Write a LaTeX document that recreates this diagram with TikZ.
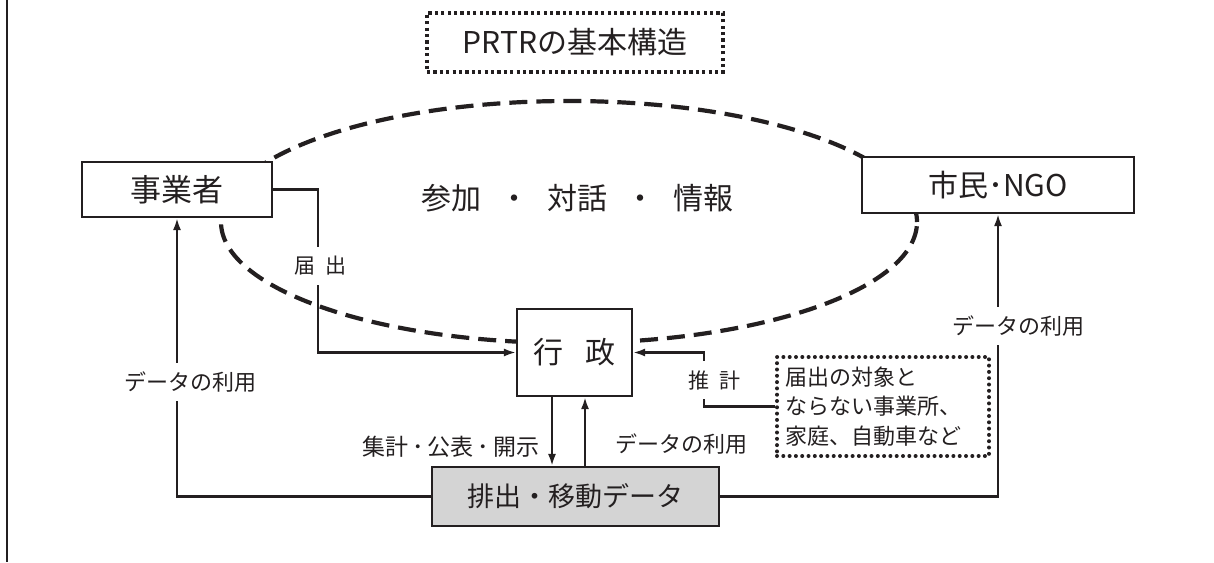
\documentclass[tikz,border=0pt]{standalone}
\usepackage{fontspec}
\setmainfont{Noto Sans CJK JP}
\usetikzlibrary{arrows.meta}
\definecolor{ink}{RGB}{35,31,32}
\definecolor{boxgray}{RGB}{212,212,212}
\begin{document}
\begin{tikzpicture}[x=1pt,y=-1pt,
  box/.style={draw=ink, line width=2.1pt, fill=white, inner sep=0pt, text=ink},
  arr/.style={draw=ink, line width=2.2pt, -{Latex[length=12pt,width=8pt]}},
  conn/.style={draw=ink, line width=2.2pt},
  lab/.style={fill=white, inner xsep=2pt, inner ysep=9pt, text=ink, font=\fontsize{22}{26}\selectfont},
  plain/.style={inner sep=0pt, text=ink},
  big/.style={font=\fontsize{30}{36}\selectfont},
  mid/.style={font=\fontsize{27}{32}\selectfont},
  small/.style={font=\fontsize{22}{26}\selectfont},
  sq/.style={draw=ink, line width=3.4pt, dash pattern=on 3.2pt off 3.2pt, inner sep=0pt, text=ink},
  dots/.style={draw=ink, line width=4pt, line cap=round, dash pattern=on 0pt off 6.3pt, inner sep=0pt, text=ink},
  oval/.style={draw=ink, line width=4.2pt, dash pattern=on 18pt off 9pt}
]
\useasboundingbox (0,0) rectangle (1214,562);
\draw[conn] (7,0) -- (7,562);
% title
\node[sq, big, minimum width=296pt, minimum height=59pt] (title) at (575,42.5) {PRTRの基本構造};
% participation ellipse
\draw[oval] (569,222) ellipse [x radius=348pt, y radius=121pt];
\node[plain, big] (talk) at (577,198) {参加\hspace{18pt}・\hspace{18pt}対話\hspace{18pt}・\hspace{18pt}情報};
% boxes
\node[box, font=\fontsize{31}{36}\selectfont, minimum width=190pt, minimum height=55pt] (jigyo) at (177,189.5) {事業者};
\node[box, big, minimum width=272pt, minimum height=56pt] (shimin) at (998,185) {市民･NGO};
\node[box, big, minimum width=115pt, minimum height=87pt] (gyosei) at (574.5,352.5) {行\hspace{22pt}政};
\node[box, mid, fill=boxgray, minimum width=287pt, minimum height=59pt] (haishutsu) at (575.5,496.5) {排出・移動データ};
\node[dots, small, inner xsep=8pt, text width=196pt, align=left, minimum height=99pt, font=\fontsize{22}{29.5}\selectfont] (est) at (883,406.5) {届出の対象と\\ならない事業所、\\家庭、自動車など};
% connectors
\coordinate (c1) at (318,352.5);
\coordinate (c2) at (704,352.5);
\draw[arr] (jigyo.east) -| (c1) -- (gyosei.west);
\draw[arr] (est.west) -| (c2) -- (gyosei.east);
\draw[arr] (haishutsu.west) -| (jigyo.south);
\draw[arr] (haishutsu.east) -| (shimin.south);
\draw[arr] ([xshift=-22.5pt]gyosei.south) -- ([xshift=-23.5pt]haishutsu.north);
\draw[arr] ([xshift=9.5pt]haishutsu.north) -- ([xshift=10.5pt]gyosei.south);
% labels
\node[lab, font=\fontsize{21}{25}\selectfont] (l1) at (320,266) {届\hspace{10pt}出};
\node[lab, font=\fontsize{21}{25}\selectfont] (l2) at (714,380) {推\hspace{10pt}計};
\node[lab] (l3) at (190,382) {データの利用};
\node[lab] (l4) at (1018,326) {データの利用};
\node[plain, font=\fontsize{23}{27}\selectfont] (l5) at (451,447) {集計\hspace{4pt}･\hspace{4pt}公表\hspace{4pt}･\hspace{4pt}開示};
\node[plain, small] (l6) at (681,444) {データの利用};
\end{tikzpicture}
\end{document}
